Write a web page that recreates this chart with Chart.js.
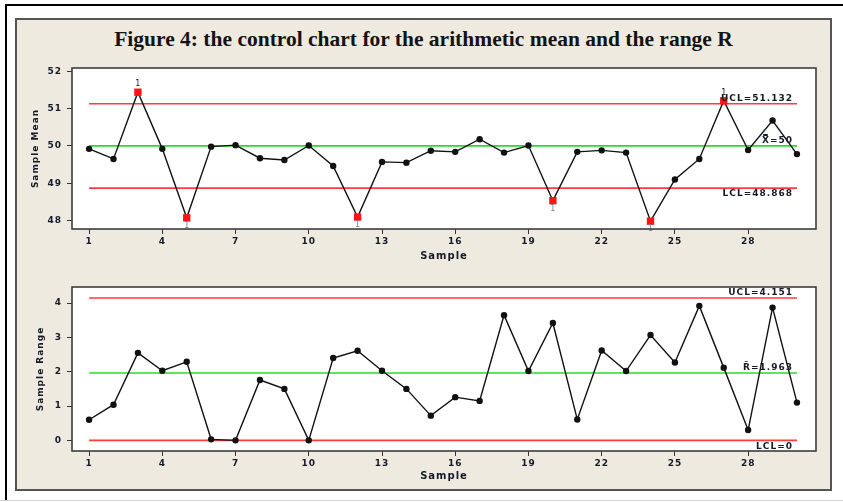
<!DOCTYPE html>
<html>
<head>
<meta charset="utf-8">
<script src="https://cdn.jsdelivr.net/npm/chart.js@4.4.1/dist/chart.umd.min.js"></script>
<style>
  html, body { margin: 0; padding: 0; background: #fff; }
  #page { position: relative; width: 843px; height: 502px; overflow: hidden; background: #fff; }
  .rule { position: absolute; background: #000; }
  #panel { position: absolute; left: 15px; top: 18px; width: 817px; height: 473px; box-sizing: border-box;
           border: 2px solid #555; background: #eeeae0; }
  #title { position: absolute; left: 15px; width: 817px; top: 27px; line-height: 22px; text-align: center;
           font: bold 21.5px "Liberation Serif", "Times New Roman", serif; color: #141414; white-space: nowrap; }
  canvas { position: absolute; }
</style>
</head>
<body>
<div id="page">
  <div class="rule" style="left:5px;top:4px;width:838px;height:2px;"></div>
  <div class="rule" style="left:5px;top:4px;width:2px;height:496px;"></div>
  <div class="rule" style="left:0;top:500px;width:843px;height:1px;background:#d4d4d4;"></div>
  <div id="panel"></div>
  <div id="title">Figure 4: the control chart for the arithmetic mean and the range R</div>
  <canvas id="meanChart" width="817" height="215" style="left:15px;top:55px;"></canvas>
  <canvas id="rangeChart" width="817" height="219" style="left:15px;top:272px;"></canvas>
</div>
<script>
// Subgroup numbers
const samples = [1, 2, 3, 4, 5, 6, 7, 8, 9, 10, 11, 12, 13, 14, 15,
                 16, 17, 18, 19, 20, 21, 22, 23, 24, 25, 26, 27, 28, 29, 30];

// Subgroup means (X-bar chart)
const sampleMeans = [49.92, 49.65, 51.44, 49.92, 48.07, 49.98, 50.02, 49.67, 49.62, 50.01,
                     49.46, 48.09, 49.57, 49.55, 49.87, 49.84, 50.18, 49.82, 50.01, 48.53,
                     49.84, 49.88, 49.82, 47.98, 49.10, 49.65, 51.21, 49.89, 50.68, 49.78];

// Subgroup ranges (R chart)
const sampleRanges = [0.60, 1.04, 2.55, 2.03, 2.29, 0.03, 0.00, 1.76, 1.50, 0.00,
                      2.40, 2.61, 2.03, 1.50, 0.72, 1.26, 1.15, 3.65, 2.02, 3.42,
                      0.61, 2.62, 2.02, 3.07, 2.27, 3.92, 2.12, 0.30, 3.87, 1.10];

// Control limits
const meanUCL = 51.132, meanCenter = 50, meanLCL = 48.868;
const rangeUCL = 4.151, rangeCenter = 1.963, rangeLCL = 0;

// Axis tick labels
const sampleTicks = [1, 4, 7, 10, 13, 16, 19, 22, 25, 28];
const meanTicks = [48, 49, 50, 51, 52];
const rangeTicks = [0, 1, 2, 3, 4];

const INK = '#161a28';
const FONT = '"DejaVu Sans", Verdana, sans-serif';
Chart.defaults.font.family = FONT;
Chart.defaults.font.size = 9;
Chart.defaults.color = INK;

// Minitab-style wide letter spacing for all canvas text
const spacingPlugin = {
  id: 'spacing',
  beforeUpdate(chart) { chart.ctx.letterSpacing = '1px'; },
  beforeDraw(chart) { chart.ctx.letterSpacing = '1px'; }
};

// White plotting area with a dark frame
const framePlugin = {
  id: 'frame',
  beforeDraw(chart) {
    const { ctx, chartArea: a } = chart;
    ctx.save();
    ctx.fillStyle = '#ffffff';
    ctx.fillRect(a.left, a.top, a.right - a.left, a.bottom - a.top);
    ctx.restore();
  },
  afterDraw(chart) {
    const { ctx, chartArea: a } = chart;
    ctx.save();
    ctx.strokeStyle = '#3c3c3c';
    ctx.lineWidth = 1.6;
    ctx.strokeRect(a.left, a.top, a.right - a.left, a.bottom - a.top);
    ctx.restore();
  }
};

// Limit labels at the right end and "1" flags on out-of-control points
const annotatePlugin = {
  id: 'annotate',
  afterDatasetsDraw(chart, args, opts) {
    const { ctx } = chart;
    const xs = chart.scales.x, ys = chart.scales.y;
    const xr = xs.getPixelForValue(samples[samples.length - 1]) - 4;
    ctx.save();
    ctx.font = 'bold 9px ' + FONT;
    ctx.fillStyle = INK;
    ctx.textAlign = 'right';
    opts.limits.forEach(l => {
      const y = ys.getPixelForValue(l.value);
      if (l.below) { ctx.textBaseline = 'top'; ctx.fillText(l.text, xr, y + 1.5); }
      else { ctx.textBaseline = 'bottom'; ctx.fillText(l.text, xr, y - 1); }
    });
    ctx.font = '8px ' + FONT;
    ctx.textAlign = 'center';
    const meta = chart.getDatasetMeta(0);
    meta.data.forEach((pt, i) => {
      const v = opts.values[i];
      if (v > opts.ucl) { ctx.fillStyle = INK; ctx.textBaseline = 'bottom'; ctx.fillText('1', pt.x + 0.5, pt.y - 4); }
      else if (v < opts.lcl) { ctx.fillStyle = '#6f7f95'; ctx.textBaseline = 'top'; ctx.fillText('1', pt.x + 0.5, pt.y + 4); }
    });
    ctx.restore();
  }
};

function controlChart(id, cfg) {
  const points = samples.map((s, i) => ({ x: s, y: cfg.values[i] }));
  const flat = v => [{ x: samples[0], y: v }, { x: samples[samples.length - 1], y: v }];
  const out = c => c.raw && (c.raw.y > cfg.ucl || c.raw.y < cfg.lcl);
  const limitLine = (v, color) => ({
    data: flat(v), borderColor: color, borderWidth: 1.6, pointRadius: 0, order: 1
  });
  return new Chart(document.getElementById(id), {
    type: 'line',
    data: {
      datasets: [
        {
          data: points,
          borderColor: '#111',
          borderWidth: 1.4,
          pointStyle: c => out(c) ? 'rect' : 'circle',
          pointRadius: c => out(c) ? 5.2 : 3.2,
          pointBackgroundColor: c => out(c) ? '#ff1414' : '#111',
          pointBorderColor: c => out(c) ? '#ff1414' : '#111',
          pointBorderWidth: 0,
          order: 0
        },
        limitLine(cfg.ucl, '#ff3b3b'),
        limitLine(cfg.center, '#22e022'),
        limitLine(cfg.lcl, '#ff3b3b')
      ]
    },
    options: {
      responsive: false,
      animation: false,
      events: [],
      layout: { padding: { left: 0, right: 16, top: cfg.padTop, bottom: 0 } },
      plugins: {
        legend: { display: false },
        tooltip: { enabled: false },
        annotate: { limits: cfg.limits, values: cfg.values, ucl: cfg.ucl, lcl: cfg.lcl }
      },
      scales: {
        x: {
          type: 'linear',
          min: 0.3,
          max: 30.78,
          afterBuildTicks: s => { s.ticks = sampleTicks.map(v => ({ value: v })); },
          afterFit: s => { s.height = cfg.xAxisHeight; },
          ticks: { autoSkip: false, maxRotation: 0, padding: 2, color: INK, font: { size: 9, weight: 'bold' },
                   callback: v => String(v) },
          grid: { drawOnChartArea: false, drawTicks: true, tickLength: 5, color: '#333', lineWidth: 1 },
          border: { display: false },
          title: { display: true, text: 'Sample', color: INK, font: { size: 10, weight: 'bold' },
                   padding: { top: 0, bottom: cfg.xTitlePad } }
        },
        y: {
          min: cfg.yMin,
          max: cfg.yMax,
          afterBuildTicks: s => { s.ticks = cfg.yTicks.map(v => ({ value: v })); },
          afterFit: s => { s.width = 57; },
          ticks: { padding: 5, color: INK, font: { size: 9, weight: 'bold' }, callback: v => String(v) },
          grid: { drawOnChartArea: false, drawTicks: true, tickLength: 5, color: '#333', lineWidth: 1 },
          border: { display: false },
          title: { display: true, text: cfg.yTitle, color: INK, font: { size: 9, weight: 'bold' },
                   padding: { top: cfg.yTitlePad, bottom: 0 } }
        }
      }
    },
    plugins: [spacingPlugin, framePlugin, annotatePlugin]
  });
}

controlChart('meanChart', {
  values: sampleMeans, ucl: meanUCL, lcl: meanLCL, center: meanCenter,
  yMin: 47.77, yMax: 52.09, yTicks: meanTicks, yTitle: 'Sample Mean',
  padTop: 13, xAxisHeight: 41, xTitlePad: 7.5, yTitlePad: 15,
  limits: [
    { value: meanUCL, text: 'UCL=' + meanUCL },
    { value: meanCenter, text: 'X\u033F=' + meanCenter },
    { value: meanLCL, text: 'LCL=' + meanLCL, below: true }
  ]
});

controlChart('rangeChart', {
  values: sampleRanges, ucl: rangeUCL, lcl: rangeLCL, center: rangeCenter,
  yMin: -0.31, yMax: 4.47, yTicks: rangeTicks, yTitle: 'Sample Range',
  padTop: 15, xAxisHeight: 40, xTitlePad: 9, yTitlePad: 20,
  limits: [
    { value: rangeUCL, text: 'UCL=' + rangeUCL },
    { value: rangeCenter, text: 'R\u0304=' + rangeCenter },
    { value: rangeLCL, text: 'LCL=' + rangeLCL, below: true }
  ]
});
</script>
</body>
</html>
